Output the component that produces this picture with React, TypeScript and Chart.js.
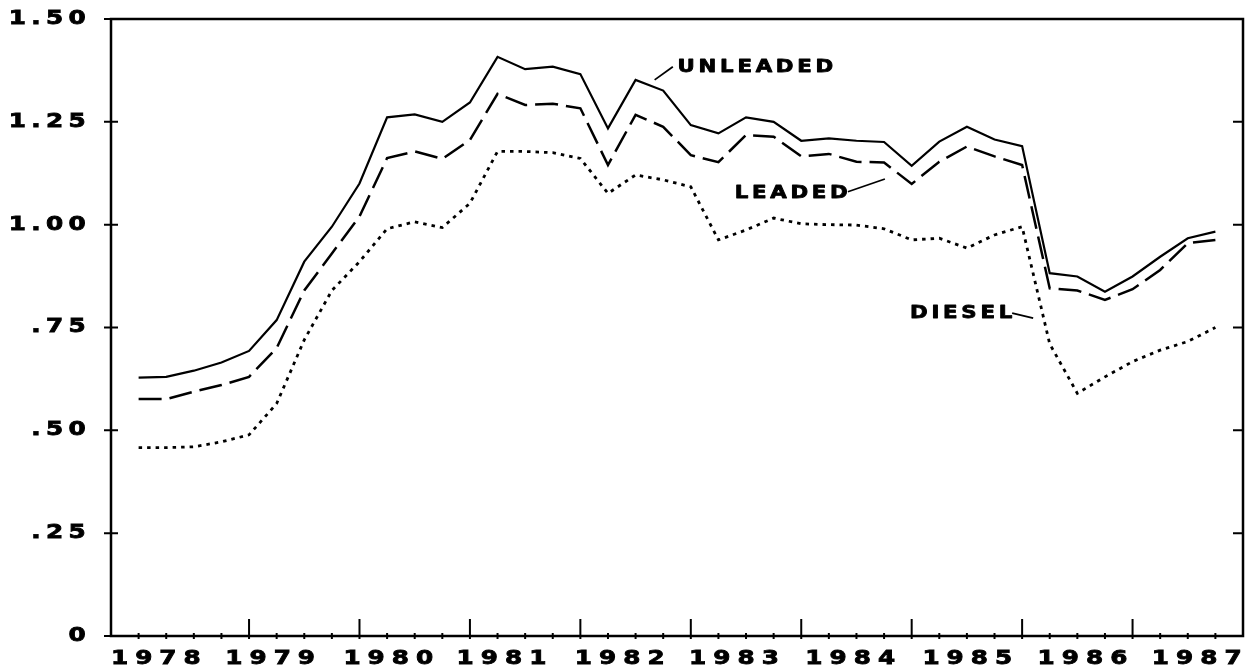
import React, { useEffect, useRef } from 'react';
import { Chart, registerables } from 'chart.js';

Chart.register(...registerables);

// ---- data (quarterly, 1978 .. 1987) ----
const YEAR_LABELS = ['1978', '1979', '1980', '1981', '1982', '1983', '1984', '1985', '1986', '1987'];
// positions (in quarter units) where the year labels sit under the axis
const YEAR_LABEL_POS = [0.65, 4.79, 9.07, 13.17, 17.45, 21.59, 25.8, 30.04, 34.21, 38.35];
const Y_TICK_VALUES = [0, 0.25, 0.5, 0.75, 1, 1.25, 1.5];
const Y_TICK_LABELS = ['0', '.25', '.50', '.75', '1.00', '1.25', '1.50'];

const UNLEADED = [
  0.628, 0.63, 0.645, 0.665, 0.693, 0.768, 0.91, 0.995, 1.1, 1.261,
  1.268, 1.25, 1.297, 1.408, 1.378, 1.384, 1.366, 1.234, 1.352, 1.326,
  1.242, 1.222, 1.261, 1.25, 1.204, 1.21, 1.204, 1.201, 1.143, 1.202,
  1.238, 1.207, 1.191, 0.882, 0.874, 0.837, 0.874, 0.922, 0.967, 0.983,
];
const LEADED = [
  0.576, 0.576, 0.594, 0.61, 0.63, 0.7, 0.84, 0.93, 1.02, 1.162,
  1.178, 1.16, 1.206, 1.318, 1.291, 1.294, 1.283, 1.145, 1.267, 1.238,
  1.169, 1.152, 1.218, 1.214, 1.166, 1.172, 1.153, 1.151, 1.099, 1.153,
  1.19, 1.166, 1.145, 0.845, 0.84, 0.817, 0.843, 0.89, 0.955, 0.963,
];
const DIESEL = [
  0.458, 0.458, 0.46, 0.472, 0.489, 0.565, 0.72, 0.84, 0.91, 0.99,
  1.007, 0.993, 1.052, 1.178, 1.178, 1.175, 1.161, 1.076, 1.121, 1.109,
  1.092, 0.963, 0.987, 1.016, 1.002, 1.0, 0.999, 0.99, 0.963, 0.967,
  0.943, 0.975, 0.995, 0.71, 0.59, 0.63, 0.667, 0.695, 0.716, 0.75,
];

// series labels drawn in the plot, anchored in data units (quarter index, price)
const ANNOTATIONS = [
  { text: 'UNLEADED', x: 19.52, y: 1.383, from: [18.69, 1.352], to: [19.35, 1.384] },
  { text: 'LEADED', x: 21.59, y: 1.075, from: [25.69, 1.08], to: [27.03, 1.111] },
  { text: 'DIESEL', x: 27.94, y: 0.784, from: [31.64, 0.785], to: [32.4, 0.773] },
];

const QUARTER_TICKS = Array.from({ length: 40 }, (_, i) => i);

const FONT = '"DejaVu Sans", sans-serif';
// wide plotter-style lettering: horizontal stretch k, letter spacing ls, shift dx
const LABEL_STYLE: Record<string, { k: number; ls: number; dx: number }> = {
  x: { k: 1.3, ls: 5.4, dx: 2.8 },
  y: { k: 1.3, ls: 4.1, dx: -20 },
};

function withWideText(ctx: any, k: number, ls: number, dx: number, fn: () => void) {
  ctx.save();
  ctx.letterSpacing = ls + 'px';
  ctx.translate(dx, 0);
  const origFill = CanvasRenderingContext2D.prototype.fillText;
  const origStroke = CanvasRenderingContext2D.prototype.strokeText;
  ctx.fillText = function (text: string, x: number, y: number) {
    this.save();
    this.translate(x, y);
    this.scale(k, 1);
    origFill.call(this, text, 0, 0);
    this.restore();
  };
  ctx.strokeText = function (text: string, x: number, y: number) {
    this.save();
    this.translate(x, y);
    this.scale(k, 1);
    origStroke.call(this, text, 0, 0);
    this.restore();
  };
  try {
    fn();
  } finally {
    delete ctx.fillText;
    delete ctx.strokeText;
    ctx.restore();
  }
}

const wideLabelsPlugin = {
  id: 'wideLabels',
  beforeDraw(chart: any) {
    for (const id of ['x', 'y']) {
      const s: any = chart.scales[id];
      if (s && !s.__widePatched) {
        const orig = s.drawLabels.bind(s);
        const st = LABEL_STYLE[id];
        s.drawLabels = (area: any) => {
          withWideText(chart.ctx, st.k, st.ls, st.dx, () => orig(area));
        };
        s.__widePatched = true;
      }
    }
  },
};

const framePlugin = {
  id: 'frameTicks',
  afterDatasetsDraw(chart: any) {
    const { ctx, chartArea: a } = chart;
    const xs = chart.scales.x;
    const ys = chart.scales.y;
    ctx.save();
    ctx.strokeStyle = '#000';
    ctx.lineWidth = 2.5;
    ctx.strokeRect(a.left, a.top, a.right - a.left, a.bottom - a.top);
    ctx.lineWidth = 2;
    ctx.beginPath();
    for (const q of QUARTER_TICKS) {
      const px = xs.getPixelForValue(q);
      const major = q > 0 && q % 4 === 0;
      ctx.moveTo(px, a.bottom + 3);
      ctx.lineTo(px, a.bottom - (major ? 17 : 3));
    }
    for (const v of Y_TICK_VALUES) {
      const py = ys.getPixelForValue(v);
      ctx.moveTo(a.left - 7, py);
      ctx.lineTo(a.left + 7, py);
      ctx.moveTo(a.right - 10, py);
      ctx.lineTo(a.right, py);
    }
    ctx.stroke();
    ctx.restore();
  },
};

const annotationPlugin = {
  id: 'seriesLabels',
  afterDatasetsDraw(chart: any) {
    const { ctx } = chart;
    const xs = chart.scales.x;
    const ys = chart.scales.y;
    ctx.save();
    ctx.fillStyle = '#000';
    ctx.strokeStyle = '#000';
    for (const an of ANNOTATIONS) {
      ctx.lineWidth = 1.8;
      ctx.beginPath();
      ctx.moveTo(xs.getPixelForValue(an.from[0]), ys.getPixelForValue(an.from[1]));
      ctx.lineTo(xs.getPixelForValue(an.to[0]), ys.getPixelForValue(an.to[1]));
      ctx.stroke();
      ctx.save();
      ctx.font = `bold 17px ${FONT}`;
      ctx.letterSpacing = '3px';
      ctx.textAlign = 'left';
      ctx.textBaseline = 'middle';
      ctx.lineWidth = 0.8;
      ctx.lineJoin = 'round';
      ctx.translate(xs.getPixelForValue(an.x), ys.getPixelForValue(an.y));
      ctx.scale(1.25, 1);
      ctx.strokeText(an.text, 0, 0);
      ctx.fillText(an.text, 0, 0);
      ctx.restore();
    }
    ctx.restore();
  },
};

const toPoints = (arr: number[]) => arr.map((v, i) => ({ x: i, y: v }));

export default function App() {
  const ref = useRef<HTMLCanvasElement>(null);
  useEffect(() => {
    const chart = new Chart(ref.current as HTMLCanvasElement, {
      type: 'line',
      data: {
        datasets: [
          {
            label: 'UNLEADED',
            data: toPoints(UNLEADED),
            borderColor: '#000',
            borderWidth: 2.2,
            pointRadius: 0,
            tension: 0,
            fill: false,
          },
          {
            label: 'LEADED',
            data: toPoints(LEADED),
            borderColor: '#000',
            borderWidth: 2.5,
            borderDash: [23, 8],
            pointRadius: 0,
            tension: 0,
            fill: false,
          },
          {
            label: 'DIESEL',
            data: toPoints(DIESEL),
            borderColor: '#000',
            borderWidth: 2.8,
            borderDash: [3.5, 5],
            pointRadius: 0,
            tension: 0,
            fill: false,
          },
        ],
      },
      options: {
        responsive: false,
        animation: false,
        layout: { padding: { top: 19, right: 12, left: 0, bottom: 0 } },
        plugins: { legend: { display: false }, tooltip: { enabled: false } },
        scales: {
          x: {
            type: 'linear',
            min: -1,
            max: 40,
            grid: { display: false, drawTicks: false },
            border: { display: false },
            afterBuildTicks: (s: any) => {
              s.ticks = YEAR_LABEL_POS.map((v) => ({ value: v }));
            },
            afterFit: (s: any) => {
              s.height = 35;
            },
            ticks: {
              autoSkip: false,
              maxRotation: 0,
              minRotation: 0,
              padding: 12,
              color: '#000',
              textStrokeColor: '#000',
              textStrokeWidth: 0.8,
              font: { family: FONT, size: 19, weight: 'bold' },
              callback: (_v: any, i: number) => YEAR_LABELS[i],
            },
          },
          y: {
            type: 'linear',
            min: 0,
            max: 1.5,
            grid: { display: false, drawTicks: false },
            border: { display: false },
            afterBuildTicks: (s: any) => {
              s.ticks = Y_TICK_VALUES.map((v) => ({ value: v }));
            },
            afterFit: (s: any) => {
              s.width = 111;
            },
            ticks: {
              padding: 0,
              color: '#000',
              textStrokeColor: '#000',
              textStrokeWidth: 0.8,
              font: { family: FONT, size: 19, weight: 'bold' },
              callback: (_v: any, i: number) => Y_TICK_LABELS[i],
            },
          },
        },
      } as any,
      plugins: [wideLabelsPlugin, framePlugin, annotationPlugin],
    });
    return () => chart.destroy();
  }, []);
  return (
    <div style={{ position: 'absolute', left: 0, top: 0, width: 1255, height: 671, background: '#fff' }}>
      <canvas ref={ref} width={1255} height={671} style={{ display: 'block' }} />
    </div>
  );
}
